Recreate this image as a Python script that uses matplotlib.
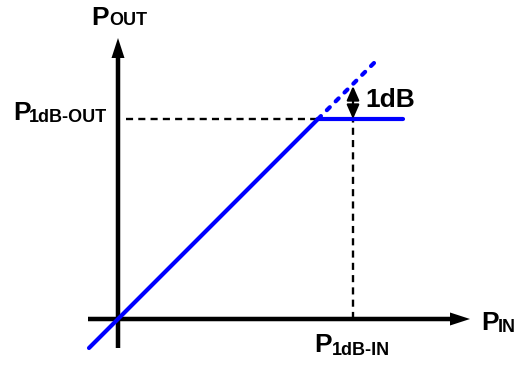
import numpy as np
import matplotlib.pyplot as plt

# data in the diagram's own units (1 unit ~ 1 px), origin at the axes crossing
p1db_in = 235
p1db_out = 200
knee = 200

pin_lin = [-29, knee]
pout_lin = [-29, knee]
pin_sat = [knee, 285]
pout_sat = [p1db_out, p1db_out]
pin_ext = [knee, 259]
pout_ext = [knee, 259]
gain_top = 233

x_axis = [-30, 352]
y_axis = [-29, 281]

blue = '#0000ff'
font = 'Liberation Sans'

fig = plt.figure(figsize=(5.16, 3.68), dpi=100)
ax = fig.add_axes([0, 0, 1, 1])
ax.set_xlim(-118, 398)
ax.set_ylim(-49, 319)
ax.axis('off')

# axes with arrow heads
ax.arrow(x_axis[0], 0, x_axis[1] - x_axis[0], 0, width=4.5, head_width=13,
         head_length=20, length_includes_head=True, color='black', lw=0, zorder=2)
ax.arrow(0, y_axis[0], 0, y_axis[1] - y_axis[0], width=4.5, head_width=13,
         head_length=20, length_includes_head=True, color='black', lw=0, zorder=2)

# black dashed guides
ax.plot([8, knee], [p1db_out, p1db_out], color='black', lw=1.7,
        linestyle=(0, (3.0, 2.2)), zorder=1)
ax.plot([p1db_in, p1db_in], [0, p1db_out], color='black', lw=1.7,
        linestyle=(0, (3.0, 2.2)), zorder=1)

# transfer curve
ax.plot(pin_lin, pout_lin, color=blue, lw=3.0, solid_capstyle='round', zorder=3)
ax.plot(pin_sat, pout_sat, color=blue, lw=3.0, solid_capstyle='round', zorder=3)
ax.plot(pin_ext, pout_ext, color=blue, lw=3.0, linestyle=(0, (1.0, 2.0)),
        dash_capstyle='round', zorder=3)

# 1dB compression arrow
ax.annotate('', xy=(p1db_in, gain_top), xytext=(p1db_in, p1db_out),
            arrowprops=dict(arrowstyle='<|-|>,head_length=0.5,head_width=0.22',
                            mutation_scale=17, lw=1.6, color='black',
                            shrinkA=0, shrinkB=0), zorder=4)

big = dict(fontfamily=font, fontweight='bold', fontsize=19, va='baseline', ha='left')
small = dict(fontfamily=font, fontweight='bold', fontsize=13, va='baseline', ha='left')

ax.text(-27, 294, 'P', **big)
ax.text(-9, 294, 'OUT', **small)
ax.text(-105, 199, 'P', **big)
ax.text(-89, 197, '1dB-OUT', **small)
ax.text(363, -11, 'P', **big)
ax.text(380, -13, 'IN', **small)
ax.text(196, -33, 'P', **big)
ax.text(214, -36, '1dB-IN', **small)
ax.text(247, 212, '1dB', fontfamily=font, fontweight='bold', fontsize=19,
        va='baseline', ha='left')

fig.savefig('out.png', dpi=100)
